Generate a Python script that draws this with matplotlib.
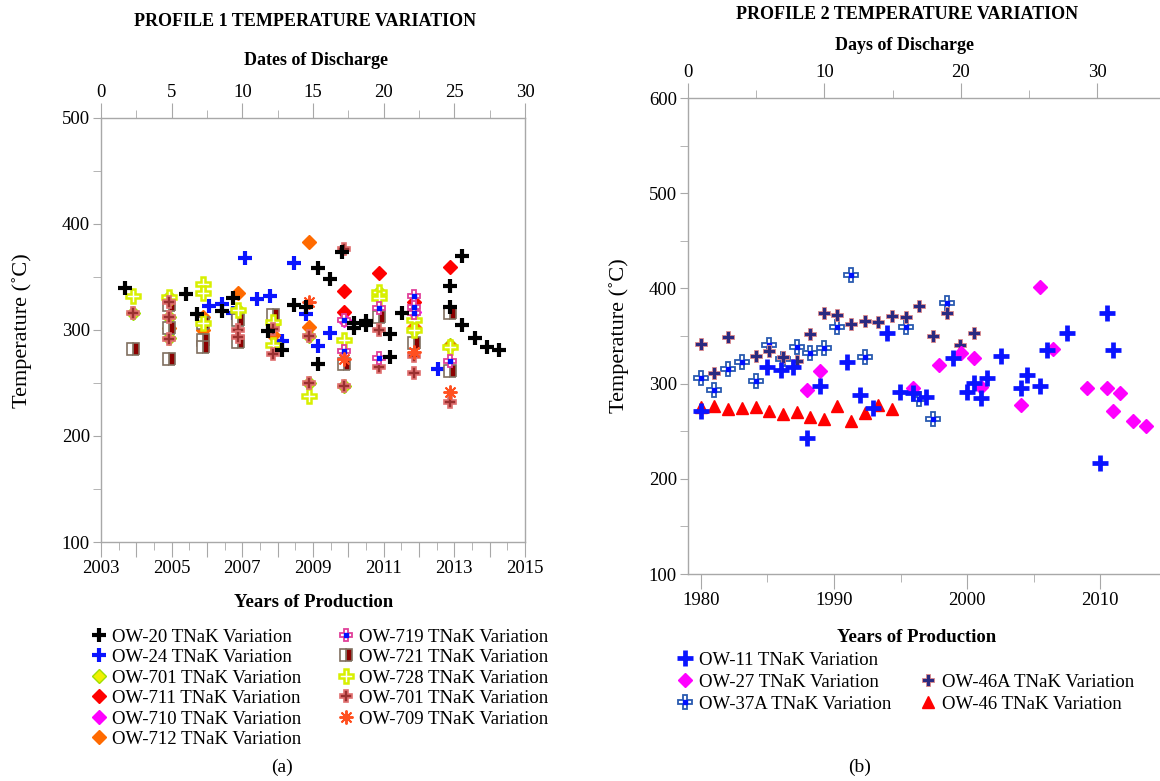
import matplotlib
matplotlib.use("Agg")
import matplotlib.pyplot as plt
from matplotlib.lines import Line2D
from matplotlib.legend_handler import HandlerTuple
from matplotlib.ticker import MultipleLocator, FuncFormatter

plt.rcParams['font.family'] = ['Liberation Serif', 'DejaVu Serif']

# ---------------- PROFILE 1 data (year, temperature) ----------------
ow20_year = [2003.68, 2005.41, 2005.72, 2006.42, 2006.74, 2007.73, 2008.12, 2008.46, 2008.80,
             2009.14, 2009.48, 2009.14, 2009.82, 2010.16, 2010.16, 2010.50, 2010.50, 2011.18,
             2011.18, 2011.52, 2012.88, 2012.88, 2013.22, 2013.22, 2013.59, 2013.93, 2014.27]
ow20_temp = [339.6, 334.0, 315.1, 317.9, 330.2, 299.1, 281.1, 323.6, 321.7,
             358.5, 348.1, 267.9, 373.6, 306.6, 301.9, 308.5, 304.7, 296.2,
             274.5, 316.0, 341.5, 321.7, 369.8, 304.7, 292.5, 284.0, 281.1]

ow24_year = [2006.06, 2006.42, 2006.74, 2007.08, 2007.42, 2007.78, 2008.12, 2008.46, 2008.80,
             2009.14, 2009.48, 2012.54]
ow24_temp = [322.6, 324.5, 316.0, 367.9, 329.2, 332.1, 289.6, 363.2, 315.1, 284.9, 297.2, 263.2]

ow701_year = [2003.91, 2004.92, 2004.92, 2004.92, 2006.88, 2007.87, 2008.89, 2008.89, 2009.88,
              2010.87, 2011.86, 2012.88]
ow701_temp = [316, 331, 312, 292, 319, 306, 294, 250, 247, 336, 300, 286]

ow711_year = [2009.88, 2009.88, 2010.87, 2011.86, 2012.88]
ow711_temp = [337, 317, 354, 326, 359]

ow710_year = [2009.88, 2011.86]
ow710_temp = [309, 317]

ow712_year = [2004.92, 2005.89, 2005.89, 2006.88, 2007.87, 2008.89, 2008.89, 2011.86, 2012.88]
ow712_temp = [302, 312, 300, 335, 295, 383, 303, 303, 285]

ow719_year = [2009.88, 2009.88, 2010.87, 2010.87, 2011.86, 2011.86, 2011.86, 2012.88]
ow719_temp = [309.4, 280.2, 320.8, 273.6, 332.1, 321.7, 316.0, 270.8]

ow721_year = [2003.91, 2004.92, 2004.92, 2004.92, 2005.89, 2005.89, 2005.89, 2006.88, 2006.88,
              2007.87, 2009.88, 2010.87, 2011.86, 2012.88, 2012.88]
ow721_temp = [282.1, 323.6, 302.0, 272.6, 306.6, 290.6, 284.0, 309.4, 288.7,
              314.2, 268.0, 312.3, 287.7, 316.0, 261.3]

ow728_year = [2003.91, 2004.92, 2005.89, 2005.89, 2005.89, 2006.88, 2007.87, 2007.87, 2009.88,
              2008.89, 2010.87, 2010.87, 2011.86, 2011.86, 2012.88]
ow728_temp = [332.1, 331.1, 343.4, 334.9, 306.6, 319.0, 307.5, 285.8, 290.6,
              237.7, 335.8, 330.2, 309.4, 300.0, 284.0]

ow701b_year = [2003.91, 2004.92, 2004.92, 2004.92, 2006.88, 2006.88, 2007.87, 2007.87, 2008.89,
               2008.89, 2009.88, 2009.88, 2010.87, 2010.87, 2011.86, 2011.86, 2012.88]
ow701b_temp = [316.0, 326.4, 312.3, 291.5, 300.0, 293.4, 301.0, 277.4, 294.3,
               250.0, 376.4, 247.2, 300.0, 265.1, 275.5, 259.4, 232.1]

ow709_year = [2008.89, 2009.88, 2011.86, 2012.88]
ow709_temp = [326.4, 272.6, 279.2, 241.5]

# ---------------- PROFILE 2 data (year, temperature) ----------------
ow11_year = [1980.0, 1984.96, 1986.02, 1986.92, 1987.97, 1988.95, 1990.98, 1991.95, 1992.93,
             1993.98, 1994.96, 1995.94, 1996.92, 1998.95, 2000.0, 2000.53, 2001.05, 2001.50,
             2002.56, 2004.06, 2004.51, 2005.49, 2006.02, 2007.52, 2010.0, 2010.53, 2010.98]
ow11_temp = [271.2, 317.4, 314.3, 317.4, 242.9, 297.5, 322.7, 288.0, 274.4,
             353.2, 291.2, 290.1, 285.9, 326.9, 291.2, 300.6, 284.9, 305.9,
             328.9, 295.4, 309.0, 297.5, 335.3, 353.2, 216.6, 374.2, 335.3]

ow27_year = [1987.97, 1988.95, 1995.94, 1997.89, 1999.55, 2000.53, 2001.05, 2004.06, 2005.49,
             2006.47, 2009.02, 2010.53, 2010.98, 2011.50, 2012.48, 2013.46]
ow27_temp = [293.3, 313.2, 295.4, 319.5, 332.1, 326.9, 296.4, 277.5, 401.5,
             336.3, 295.4, 295.4, 271.2, 290.1, 260.7, 255.5]

ow37a_year = [1980.0, 1980.98, 1982.03, 1983.08, 1984.14, 1985.11, 1986.17, 1987.22, 1988.20,
              1989.25, 1990.23, 1991.28, 1992.33, 1995.41, 1996.39, 1997.44, 1998.50]
ow37a_temp = [305.9, 293.3, 315.3, 322.7, 302.7, 340.5, 325.8, 338.4, 332.1,
              337.4, 359.5, 414.1, 327.9, 359.5, 283.8, 262.8, 384.7]

ow46a_year = [1980.0, 1980.98, 1982.03, 1984.14, 1985.11, 1986.17, 1987.22, 1988.20, 1989.25,
              1990.23, 1991.28, 1992.33, 1993.31, 1994.36, 1995.41, 1996.39, 1997.44, 1998.50,
              1999.47, 2000.53]
ow46a_temp = [341.6, 311.1, 349.0, 329.0, 334.2, 327.9, 323.7, 352.1, 374.2,
              372.1, 362.6, 365.8, 364.7, 371.0, 369.9, 381.5, 350.0, 374.2,
              340.5, 353.2]

ow46_year = [1980.0, 1980.98, 1982.03, 1983.08, 1984.14, 1985.11, 1986.17, 1987.22, 1988.20,
             1989.25, 1990.23, 1991.28, 1992.33, 1993.31, 1994.36]
ow46_temp = [275.4, 276.5, 273.3, 274.4, 275.4, 271.2, 268.1, 270.2, 264.9,
             262.8, 276.5, 260.7, 269.1, 277.5, 273.3]

GRAY = "#a8a8a8"


def style_axes(ax, top):
    for s in ax.spines.values():
        s.set_color(GRAY)
        s.set_linewidth(1.0)
    ax.tick_params(which="both", color=GRAY, labelsize=13.5, direction="out")
    ax.tick_params(axis="x", which="major", length=11, pad=2)
    ax.tick_params(axis="x", which="minor", length=6)
    ax.tick_params(axis="y", which="both", length=6, pad=2)
    top.tick_params(which="both", color=GRAY, labelsize=13.5, direction="out")
    top.tick_params(axis="x", which="major", length=11, pad=1)
    top.tick_params(axis="x", which="minor", length=6)
    for s in top.spines.values():
        s.set_visible(False)


fig = plt.figure(figsize=(11.6, 7.81), dpi=100)

# ---------------- left panel ----------------
ax1 = fig.add_axes([0.0871, 0.306, 0.3655, 0.543])
ax1.set_xlim(2003, 2015)
ax1.set_ylim(100, 500)
ax1.xaxis.set_major_locator(MultipleLocator(1))
ax1.xaxis.set_minor_locator(MultipleLocator(0.5))
ax1.xaxis.set_major_formatter(FuncFormatter(lambda v, p: str(int(round(v))) if int(round(v)) % 2 == 1 else ""))
ax1.yaxis.set_major_locator(MultipleLocator(100))
ax1.yaxis.set_minor_locator(MultipleLocator(50))
ax1t = ax1.twiny()
ax1t.set_xlim(0, 30)
ax1t.xaxis.set_major_locator(MultipleLocator(5))
ax1t.xaxis.set_minor_locator(MultipleLocator(2.5))
style_axes(ax1, ax1t)

h24, = ax1.plot(ow24_year, ow24_temp, ls="none", marker="+", ms=10, mew=3, color="#0a14ff")
h701, = ax1.plot(ow701_year, ow701_temp, ls="none", marker="D", ms=7, color="#f0f000", mec="#a0e000")
h711, = ax1.plot(ow711_year, ow711_temp, ls="none", marker="D", ms=7, color="#ff0000", mec="#ff0000")
h710, = ax1.plot(ow710_year, ow710_temp, ls="none", marker="D", ms=7, color="#ff00ff", mec="#ff00ff")
h712, = ax1.plot(ow712_year, ow712_temp, ls="none", marker="D", ms=7, color="#ff6a00", mec="#ff6a00")
h721, = ax1.plot(ow721_year, ow721_temp, ls="none", marker="s", ms=9, fillstyle="right",
                 markerfacecolor="#8b0000", markerfacecoloralt="white", mec="#807060", mew=1.2)
h728, = ax1.plot(ow728_year, ow728_temp, ls="none", marker="P", ms=9.5, mfc="white",
                 mec="#d8f000", mew=1.8)
h701b, = ax1.plot(ow701b_year, ow701b_temp, ls="none", marker="P", ms=9, mfc="#9a3030",
                  mec="#e07070", mew=1.2)
h719a, = ax1.plot(ow719_year, ow719_temp, ls="none", marker="P", ms=9, mfc="white",
                  mec="#e0409a", mew=1.3)
h719b, = ax1.plot(ow719_year, ow719_temp, ls="none", marker="s", ms=3.5, color="#0010ff")
h709, = ax1.plot(ow709_year, ow709_temp, ls="none", marker=(8, 2, 0), ms=10, color="#ff5020",
                 mew=1.4)
h20, = ax1.plot(ow20_year, ow20_temp, ls="none", marker="+", ms=10, mew=3, color="black")

fig.text(0.263, 0.972, "PROFILE 1 TEMPERATURE VARIATION", ha="center", va="center",
         fontsize=13, fontweight="bold")
fig.text(0.272, 0.922, "Dates of Discharge", ha="center", va="center", fontsize=13, fontweight="bold")
fig.text(0.27, 0.228, "Years of Production", ha="center", va="center", fontsize=13.5, fontweight="bold")
fig.text(0.019, 0.577, "Temperature (˚C)", ha="center", va="center", rotation=90, fontsize=16)
fig.text(0.243, 0.017, "(a)", ha="center", va="center", fontsize=14)

fig.legend([h20, h24, h701, h711, h710, h712, (h719a, h719b), h721, h728, h701b, h709],
           ["OW-20 TNaK Variation", "OW-24 TNaK Variation", "OW-701 TNaK Variation",
            "OW-711 TNaK Variation", "OW-710 TNaK Variation", "OW-712 TNaK Variation",
            "OW-719 TNaK Variation", "OW-721 TNaK Variation", "OW-728 TNaK Variation",
            "OW-701 TNaK Variation", "OW-709 TNaK Variation"],
           handler_map={tuple: HandlerTuple(ndivide=1)},
           loc="upper left", bbox_to_anchor=(0.072, 0.205), ncol=2, frameon=False,
           fontsize=13.5, labelspacing=0.18, handlelength=0.8, handletextpad=0.3,
           columnspacing=2.0, borderaxespad=0)

# ---------------- right panel ----------------
ax2 = fig.add_axes([0.593, 0.265, 0.407, 0.6095])
ax2.set_xlim(1979.02, 2014.5)
ax2.set_ylim(100, 600)
ax2.xaxis.set_major_locator(MultipleLocator(10))
ax2.xaxis.set_minor_locator(MultipleLocator(5))
ax2.yaxis.set_major_locator(MultipleLocator(100))
ax2.yaxis.set_minor_locator(MultipleLocator(50))
ax2t = ax2.twiny()
ax2t.set_xlim(0, 34.6)
ax2t.xaxis.set_major_locator(MultipleLocator(10))
ax2t.xaxis.set_minor_locator(MultipleLocator(5))
style_axes(ax2, ax2t)
ax2.spines["right"].set_visible(False)

g46, = ax2.plot(ow46_year, ow46_temp, ls="none", marker="^", ms=9, color="#ff0000", mec="#ff0000")
g37a, = ax2.plot(ow37a_year, ow37a_temp, ls="none", marker="P", ms=10, mfc="white",
                 mec="#2a5ab0", mew=1.3)
g37b, = ax2.plot(ow37a_year, ow37a_temp, ls="none", marker="s", ms=3.5, color="#0010ff")
g46a, = ax2.plot(ow46a_year, ow46a_temp, ls="none", marker="P", ms=8.5, mfc="#2a2a80",
                 mec="#e08a8a", mew=0.6)
g27, = ax2.plot(ow27_year, ow27_temp, ls="none", marker="D", ms=7, color="#ff00ff", mec="#ff00ff")
g11, = ax2.plot(ow11_year, ow11_temp, ls="none", marker="+", ms=11.5, mew=3.4, color="#0a14ff")

fig.text(0.782, 0.982, "PROFILE 2 TEMPERATURE VARIATION", ha="center", va="center",
         fontsize=13, fontweight="bold")
fig.text(0.78, 0.942, "Days of Discharge", ha="center", va="center", fontsize=13, fontweight="bold")
fig.text(0.79, 0.184, "Years of Production", ha="center", va="center", fontsize=13.5, fontweight="bold")
fig.text(0.534, 0.57, "Temperature (˚C)", ha="center", va="center", rotation=90, fontsize=16)
fig.text(0.741, 0.017, "(b)", ha="center", va="center", fontsize=14)

blank = Line2D([], [], ls="none")
fig.legend([g11, g27, (g37a, g37b), blank, g46a, g46],
           ["OW-11 TNaK Variation", "OW-27 TNaK Variation", "OW-37A TNaK Variation", " ",
            "OW-46A TNaK Variation", "OW-46 TNaK Variation"],
           handler_map={tuple: HandlerTuple(ndivide=1)},
           loc="upper left", bbox_to_anchor=(0.578, 0.175), ncol=2, frameon=False,
           fontsize=13.5, labelspacing=0.25, handlelength=0.8, handletextpad=0.3,
           columnspacing=1.6, borderaxespad=0)

fig.savefig("out.png", dpi=100)
